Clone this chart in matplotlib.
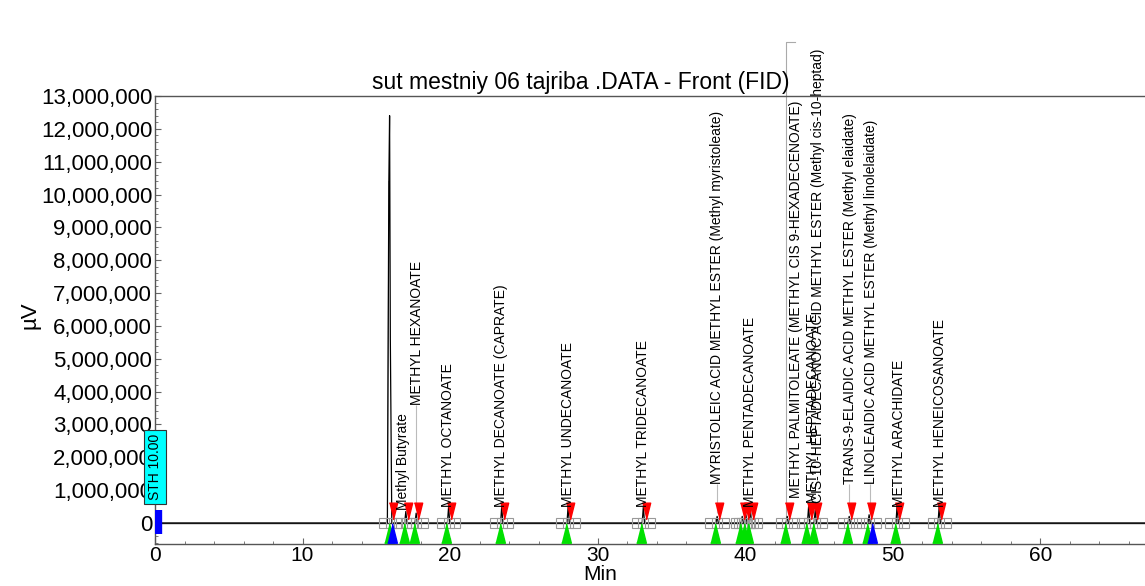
import numpy as np
import matplotlib
matplotlib.use("Agg")
import matplotlib.pyplot as plt
from matplotlib.ticker import FuncFormatter, MultipleLocator

plt.rcParams['font.family'] = ['Liberation Sans', 'DejaVu Sans']

# solvent peak
solvent_t = [15.75, 15.85, 15.9, 15.95, 16.05]
solvent_v = [0, 10.4e6, 12.4e6, 5.6e6, 0]

# small peaks: retention time (min) and apex height (uV)
peak_times = [17.0, 17.7, 19.9, 23.5, 28.0, 33.1, 38.1, 39.8, 40.05, 40.35,
              42.85, 44.3, 44.75, 47.05, 48.4, 50.3, 53.15]
peak_heights = [0.35e6, 0.3e6, 0.5e6, 0.5e6, 0.5e6, 0.5e6, 0.2e6, 0.2e6, 0.25e6, 0.45e6,
                0.2e6, 0.5e6, 0.4e6, 0.2e6, 0.25e6, 0.55e6, 0.5e6]

# peak labels
label_texts = [
    "Methyl Butyrate",
    "METHYL HEXANOATE",
    "METHYL OCTANOATE",
    "METHYL DECANOATE (CAPRATE)",
    "METHYL UNDECANOATE",
    "METHYL TRIDECANOATE",
    "MYRISTOLEIC ACID METHYL ESTER (Methyl myristoleate)",
    "METHYL PENTADECANOATE",
    "METHYL PALMITOLEATE (METHYL CIS 9-HEXADECENOATE)",
    "METHYL HEPTADECANOATE",
    "CIS-10-HEPTADECANOIC ACID METHYL ESTER (Methyl cis-10-heptad)",
    "TRANS-9-ELAIDIC ACID METHYL ESTER (Methyl elaidate)",
    "LINOLEAIDIC ACID METHYL ESTER (Methyl linolelaidate)",
    "METHYL ARACHIDATE",
    "METHYL HENEICOSANOATE",
]
label_times = [16.8, 17.75, 19.85, 23.45, 28.0, 33.1, 38.1, 40.35, 43.45, 44.6, 44.95,
               47.1, 48.55, 50.45, 53.2]
label_bottoms = [0.4e6, 3.6e6, 0.5e6, 0.5e6, 0.5e6, 0.5e6, 1.2e6, 0.5e6, 0.75e6, 0.6e6, 0.6e6,
                 1.2e6, 1.2e6, 0.5e6, 0.5e6]

# leader lines from peak to a raised label
leader_x = [17.7, 38.1, 47.05, 48.45]
leader_y0 = [0.4e6, 0.3e6, 0.3e6, 0.3e6]
leader_y1 = [3.6e6, 1.2e6, 1.2e6, 1.2e6]
bent_leader_t = [42.8, 42.8, 43.35]
bent_leader_v = [0.1e6, 14.65e6, 14.65e6]

# integration markers
start_times = [15.85] + [t - 0.15 for t in peak_times]
end_times = [16.1] + [t + 0.15 for t in peak_times]
blue_times = [16.05, 48.6]

fig = plt.figure(figsize=(11.45, 5.86), dpi=100)
ax = fig.add_axes([155 / 1145, 42 / 586, 990 / 1145, 448 / 586])

# chromatogram trace
trace_t = [0.0] + solvent_t
trace_v = [0.0] + solvent_v
for t, h in zip(peak_times, peak_heights):
    trace_t += [t - 0.08, t, t + 0.08]
    trace_v += [0, h, 0]
trace_t.append(67.1)
trace_v.append(0)
ax.axhline(0, color="#333333", lw=1.0, zorder=1)
ax.plot(trace_t, trace_v, color="black", lw=0.9, zorder=3)
ax.plot(solvent_t[:2], solvent_v[:2], color="#888888", lw=0.6, zorder=2)

# leaders
ax.vlines(leader_x, leader_y0, leader_y1, color="#bbbbbb", lw=0.8, zorder=2)
ax.plot(bent_leader_t, bent_leader_v, color="#aaaaaa", lw=0.8, zorder=2, clip_on=False)

# markers
red_tri = [(-0.5, 1), (0.5, 1), (0, -1)]
up_tri = [(-0.5, -1), (0.5, -1), (0, 1)]
ax.plot(end_times, [0.37e6] * len(end_times), ls="none", marker=red_tri, ms=12,
        color="#ff0000", zorder=5)
ax.plot(start_times, [-0.29e6] * len(start_times), ls="none", marker=up_tri, ms=14,
        color="#00e000", zorder=5)
ax.plot(blue_times, [-0.29e6] * len(blue_times), ls="none", marker=up_tri, ms=14,
        color="#0000ff", zorder=6)
sq_t = []
for s, e in zip(start_times, end_times):
    sq_t += [s - 0.3, (s + e) / 2, e + 0.3]
ax.plot(sq_t, [0] * len(sq_t), ls="none", marker="s", ms=6.5, mfc="none",
        mec="#999999", mew=0.8, zorder=4)

# labels
for x, y, s in zip(label_times, label_bottoms, label_texts):
    ax.text(x, y, s, rotation=90, ha="center", va="bottom", fontsize=10,
            color="black", zorder=7, clip_on=False)

# STH event box
ax.vlines([0.2], [-0.35e6], [0.4e6], color="#0000ff", lw=6, zorder=6)
ax.text(0, 1.7e6, "STH 10.00", rotation=90, ha="center", va="center", fontsize=10,
        zorder=8, clip_on=False,
        bbox=dict(boxstyle="square,pad=0.3", fc="#00ffff", ec="#333333", lw=0.8))

ax.set_xlim(0, 67.1)
ax.set_ylim(-0.64e6, 13e6)
ax.xaxis.set_major_locator(MultipleLocator(10))
ax.xaxis.set_minor_locator(MultipleLocator(2))
ax.yaxis.set_major_locator(MultipleLocator(1e6))
ax.yaxis.set_minor_locator(MultipleLocator(2e5))
ax.yaxis.set_major_formatter(FuncFormatter(lambda v, p: f"{v:,.0f}"))
ax.tick_params(axis="both", which="both", direction="in", color="#666666", labelsize=16)
ax.tick_params(axis="x", labelsize=15)
ax.tick_params(axis="both", which="major", length=4)
ax.tick_params(axis="both", which="minor", length=2)
ax.tick_params(axis="y", pad=2)
ax.tick_params(axis="x", pad=1.5)
for side in ["left", "bottom", "top"]:
    ax.spines[side].set_color("#555555")
    ax.spines[side].set_linewidth(1.0)
ax.spines["right"].set_visible(False)

fig.text(581 / 1145, 1 - 82 / 586, "sut mestniy 06 tajriba .DATA - Front (FID)",
         ha="center", va="center", fontsize=16.5)
fig.text(30 / 1145, 1 - 315 / 586, "µV", rotation=90, ha="center", va="center", fontsize=16)
fig.text(600 / 1145, 2 / 586, "Min", ha="center", va="bottom", fontsize=15)

fig.savefig("out.png", dpi=100)
